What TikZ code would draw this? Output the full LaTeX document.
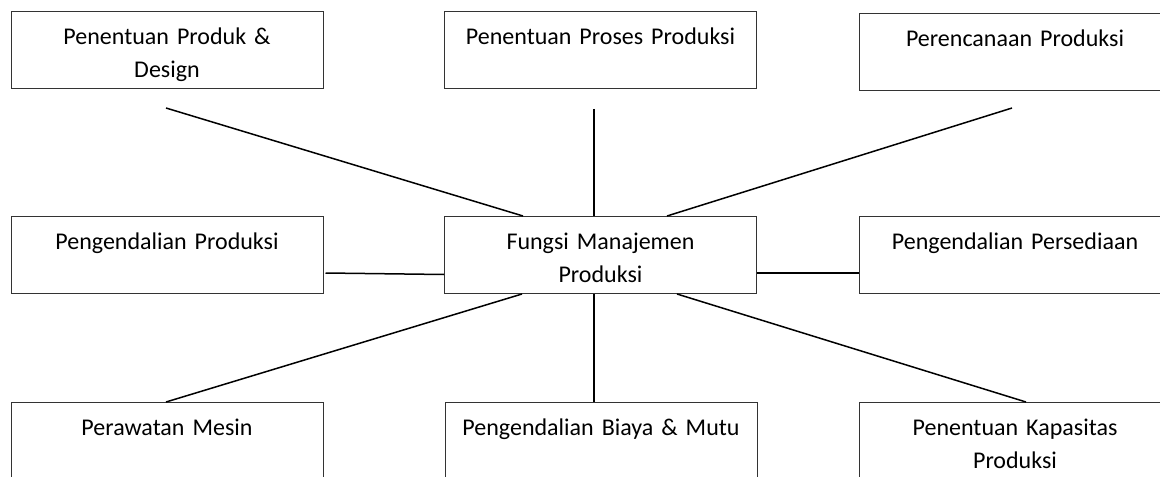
\documentclass[tikz,border=0pt]{standalone}
\usepackage{fontspec}
\setmainfont{Carlito}
\usetikzlibrary{positioning}

\tikzset{
  kotak/.style={draw=black!80, line width=0.5pt, rectangle, anchor=north,
    minimum width=156pt, text width=150pt, align=center,
    inner xsep=3pt, inner ysep=0pt, text height=16.5pt, text depth=22pt,
    font=\fontsize{12}{16.5}\selectfont},
  garis/.style={line width=0.75pt}
}

\begin{document}
\begin{tikzpicture}[x=0.5pt, y=-0.5pt]
    \useasboundingbox (0,0) rectangle (1160,476);

    \node[kotak] (produk)    at (167,11)    {Penentuan Produk \&\\Design};
    \node[kotak] (proses)    at (600.5,11)  {Penentuan Proses Produksi};
    \node[kotak] (rencana)   at (1015,13)   {Perencanaan Produksi};
    \node[kotak] (kendali)   at (167,216)   {Pengendalian Produksi};
    \node[kotak] (fungsi)    at (600.5,216) {Fungsi Manajemen\\Produksi};
    \node[kotak] (sedia)     at (1015,216)  {Pengendalian Persediaan};
    \node[kotak] (rawat)     at (167,402)   {Perawatan Mesin};
    \node[kotak] (biaya)     at (601,402)   {Pengendalian Biaya \& Mutu};
    \node[kotak] (kapasitas) at (1015,402)  {Penentuan Kapasitas\\Produksi};

    \coordinate (produk-ujung)  at ([xshift=-0.5pt,yshift=-9.5pt]produk.south);
    \coordinate (proses-ujung)  at ([xshift=-3.25pt,yshift=-10pt]proses.south);
    \coordinate (rencana-ujung) at ([xshift=-1.5pt,yshift=-8.5pt]rencana.south);
    \coordinate (fungsi-bawah)  at ([xshift=-3.25pt]fungsi.south);

    \draw[garis] (produk-ujung) -- ([xshift=-38.75pt]fungsi.north);
    \draw[garis] (proses-ujung) -- (proses-ujung |- fungsi.north);
    \draw[garis] (rencana-ujung) -- ([xshift=33.25pt]fungsi.north);
    \draw[garis] ([xshift=1pt,yshift=-9pt]kendali.east) -- ([yshift=-9.75pt]fungsi.west);
    \draw[garis] ([yshift=-9pt]fungsi.east) -- ([yshift=-9pt]sedia.west);
    \draw[garis] ([xshift=-39.25pt]fungsi.south) -- ([xshift=-0.5pt]rawat.north);
    \draw[garis] (fungsi-bawah) -- (fungsi-bawah |- biaya.north);
    \draw[garis] ([xshift=38.25pt]fungsi.south) -- ([xshift=5.5pt]kapasitas.north);
\end{tikzpicture}
\end{document}
